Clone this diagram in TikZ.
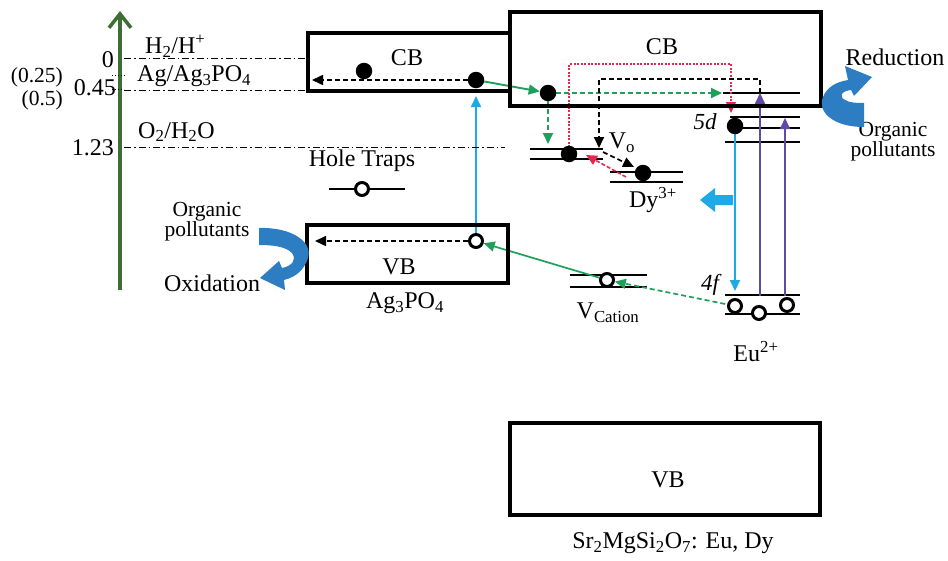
\documentclass[tikz,border=0pt]{standalone}
\usepackage{fontspec}
\setmainfont{Liberation Serif}
\usetikzlibrary{arrows.meta}
\pgfdeclarelayer{background}
\pgfsetlayers{background,main}
\definecolor{axisgreen}{RGB}{62,110,52}
\definecolor{egreen}{RGB}{30,160,90}
\definecolor{lblue}{RGB}{30,170,230}
\definecolor{vline}{RGB}{95,75,165}
\definecolor{rline}{RGB}{230,40,80}
\definecolor{bigblue}{RGB}{45,125,195}
\tikzset{
 bandbox/.style={draw=black,line width=3.5pt,inner sep=0pt},
 lvl/.style={line width=1.8pt},
 edot/.style={circle,fill=black,inner sep=0pt,minimum size=16.5pt},
 hole/.style={circle,draw=black,line width=3pt,fill=white,inner sep=0pt,minimum size=13pt},
 refline/.style={line width=0.9pt,dash pattern=on 7pt off 3pt on 1.5pt off 3pt},
 lab/.style={font=\fontsize{24}{26}\selectfont,inner sep=0pt},
 slab/.style={font=\fontsize{21.5}{20}\selectfont,inner sep=0pt,align=center},
 ilab/.style={font=\fontsize{23}{26}\selectfont\itshape,inner sep=0pt},
 tipa/.style={-{Triangle[length=11pt,width=10pt]}},
 dsh/.style={dash pattern=on 5pt off 3pt},
}
\begin{document}
\begin{tikzpicture}[x=1pt,y=-1pt]
\useasboundingbox (0,0) rectangle (948,560);

% ---------- boxes ----------
\node[bandbox,minimum width=202pt,minimum height=58pt] (agcb) at (409,62) {};
\node[bandbox,minimum width=311pt,minimum height=94pt] (smcb) at (665.5,59) {};
\node[bandbox,minimum width=201pt,minimum height=58pt] (agvb) at (407.5,254) {};
\node[bandbox,minimum width=310pt,minimum height=92pt] (smvb) at (665,469) {};

\node[lab] (tcb1) at (407,58) {CB};
\node[lab] (tcb2) at (662,47) {CB};
\node[lab] (tvb1) at (399,267) {VB};
\node[lab] (tvb2) at (668,480) {VB};

% ---------- axis ----------
\coordinate (axb) at (120,290);
\coordinate (axt) at (120,11);
\draw[axisgreen,line width=4.5pt,-{Straight Barb[length=14pt,width=22pt,line width=3.5pt]}] (axb) -- (axt);

\coordinate (r0a) at (124,58);  \coordinate (r0b) at (307,58);
\coordinate (r1a) at (124,90);  \coordinate (r1b) at (307,90);
\coordinate (r2a) at (124,147); \coordinate (r2b) at (505,147);
\draw[refline] (r0a) -- (r0b);
\draw[refline] (r1a) -- (r1b);
\draw[refline] (r2a) -- (r2b);
\coordinate (q1a) at (112,75); \coordinate (q1b) at (126,75);
\coordinate (q2a) at (112,89); \coordinate (q2b) at (124,89);
\draw[line width=0.9pt,dash pattern=on 1.2pt off 1.8pt] (q1a) -- (q1b);
\draw[line width=0.9pt,dash pattern=on 1.2pt off 1.8pt] (q2a) -- (q2b);

\node[lab,anchor=east] (v0) at (114,60) {0};
\node[lab,anchor=east] (v045) at (116,88) {0.45};
\node[lab,anchor=east] (v123) at (114,148) {1.23};
\node[slab,anchor=east] (v025) at (63,77) {(0.25)};
\node[slab,anchor=east] (v05) at (63,100) {(0.5)};
\node[lab,anchor=west] (lh2) at (145,46) {H\textsubscript{2}/H\textsuperscript{+}};
\node[lab,anchor=west] (lag) at (137,76) {Ag/Ag\textsubscript{3}PO\textsubscript{4}};
\node[lab,anchor=west] (lo2) at (138,132) {O\textsubscript{2}/H\textsubscript{2}O};

% ---------- Ag3PO4 ----------
\node[edot] (e1) at (364,71) {};
\node[edot] (e2) at (476,80) {};
\node[hole] (h1) at (476,241) {};
\node[hole] (ht) at (362,189) {};
\coordinate (agcbL) at (312,80);
\coordinate (agvbL) at (315,241);
\coordinate (e2up) at (476,96);
\coordinate (hta) at (329,189); \coordinate (htb) at (405,189);
\node[lab] (lht) at (362,161) {Hole Traps};
\node[lab] (lag3) at (405,303) {Ag\textsubscript{3}PO\textsubscript{4}};

% ---------- Sr2MgSi2O7 levels ----------
\node[edot] (e3) at (548,93) {};
\node[edot] (e4) at (569,154) {};
\node[edot] (e5) at (643,173) {};
\node[edot] (e6) at (735,126) {};
\node[hole] (h2) at (735,306) {};
\node[hole] (h3) at (759,313) {};
\node[hole] (h4) at (787,305) {};
\node[hole] (h5) at (607,280) {};

\coordinate (g5d) at (722,93);
\coordinate (gvo) at (548,144);
\coordinate (rtop) at (731,64);
\coordinate (r5d) at (731,113);
\coordinate (kA) at (760,93);
\coordinate (kB) at (599,79);
\coordinate (kvo) at (599,148);
\coordinate (kvs) at (603,152);
\coordinate (kdy) at (634,167);
\coordinate (rdT) at (626,177);
\coordinate (rdH) at (586,155);
\coordinate (f4) at (735,291);
\coordinate (v1b) at (760,296); \coordinate (v1t) at (760,93);
\coordinate (v2b) at (785,296); \coordinate (v2t) at (785,118);

\node[lab] (lvo) at (622,143) {V\textsubscript{o}};
\node[lab] (ldy) at (653,200) {Dy\textsuperscript{3+}};
\node[ilab] (l5d) at (705,122) {5d};
\node[ilab] (l4f) at (710,285) {4f};
\node[lab] (leu) at (756,352) {Eu\textsuperscript{2+}};
\node[lab] (lvc) at (608,313) {V\textsubscript{Cation}};
\node[lab] (lsms) at (673,543) {Sr\textsubscript{2}MgSi\textsubscript{2}O\textsubscript{7}: Eu, Dy};

\node[lab] (lred) at (895,57) {Reduction};
\node[slab] (lorg2) at (893,142) {Organic\\pollutants};
\node[lab] (lox) at (212,283) {Oxidation};
\node[slab] (lorg1) at (207,222) {Organic\\pollutants};

\begin{pgfonlayer}{background}
% level lines
\draw[lvl] (hta) -- (htb);
\draw[lvl] (530,149) -- (603,149);
\draw[lvl] (530,159) -- (603,159);
\draw[lvl] (610,172) -- (683,172);
\draw[lvl] (610,182) -- (683,182);
\draw[lvl] (723,93) -- (800,93);
\draw[lvl] (730,117) -- (800,117);
\draw[lvl] (737,128) -- (800,128);
\draw[lvl] (725,142) -- (800,142);
\draw[lvl] (725,295) -- (800,295);
\draw[lvl] (725,314) -- (800,314);
\draw[lvl] (570,275) -- (647,275);
\draw[lvl] (570,287) -- (647,287);

% Ag3PO4 transfers
\draw[line width=1.6pt,dsh,tipa] (e2) -- (agcbL);
\draw[line width=1.6pt,dsh,tipa] (h1) -- (agvbL);
\draw[lblue,line width=1.9pt,tipa] (h1) -- (e2up);

% green electron / hole paths
\draw[egreen,line width=1.9pt,tipa] (e2) -- (e3);
\draw[egreen,line width=1.9pt,dsh,tipa] (e3) -- (g5d);
\draw[egreen,line width=1.9pt,dsh,tipa] (e3) -- (gvo);
\draw[egreen,line width=1.7pt,dsh,tipa,shorten <=2pt] (h2) -- (h5);
\draw[egreen,line width=1.7pt,tipa] (h5) -- (h1);

% red dotted and black dashed trap paths
\draw[rline,line width=1.3pt,dash pattern=on 2pt off 1.5pt,tipa] (e4.center) |- (rtop) -- (r5d);
\draw[black,line width=1.7pt,dsh,tipa] (kA) |- (kB) -- (kvo);
\draw[black,line width=1.7pt,dsh,tipa] (kvs) -- (kdy);
\draw[rline,line width=1.6pt,dash pattern=on 4pt off 2pt,tipa] (rdT) -- (rdH);

% Eu transitions
\draw[lblue,line width=1.9pt,tipa] (e6) -- (f4);
\draw[vline,line width=1.9pt,tipa] (v1b) -- (v1t);
\draw[vline,line width=1.9pt,tipa] (v2b) -- (v2t);
\end{pgfonlayer}

% emission arrow
\fill[lblue] (733,195) -- (715,195) -- (715,188) -- (700,200) -- (715,212) -- (715,205) -- (733,205) -- cycle;

% Reduction curved arrow
\fill[bigblue] (864,127) .. controls (832,127) and (817,111) .. (823,97)
  .. controls (827,87) and (836,82) .. (848,80) -- (845,66) -- (872,77) -- (854,96) -- (851,90)
  .. controls (842,91) and (838,96) .. (845,100) .. controls (850,103) and (857,103) .. (864,103) -- cycle;

% Oxidation curved arrow
\fill[bigblue] (259,228) .. controls (292,227) and (313,242) .. (308,258)
  .. controls (304,270) and (296,277) .. (284,280) -- (285,290) -- (260,278) -- (279,261) -- (282,268)
  .. controls (292,266) and (297,260) .. (292,253) .. controls (286,247) and (275,245) .. (259,245) -- cycle;
\end{tikzpicture}
\end{document}
